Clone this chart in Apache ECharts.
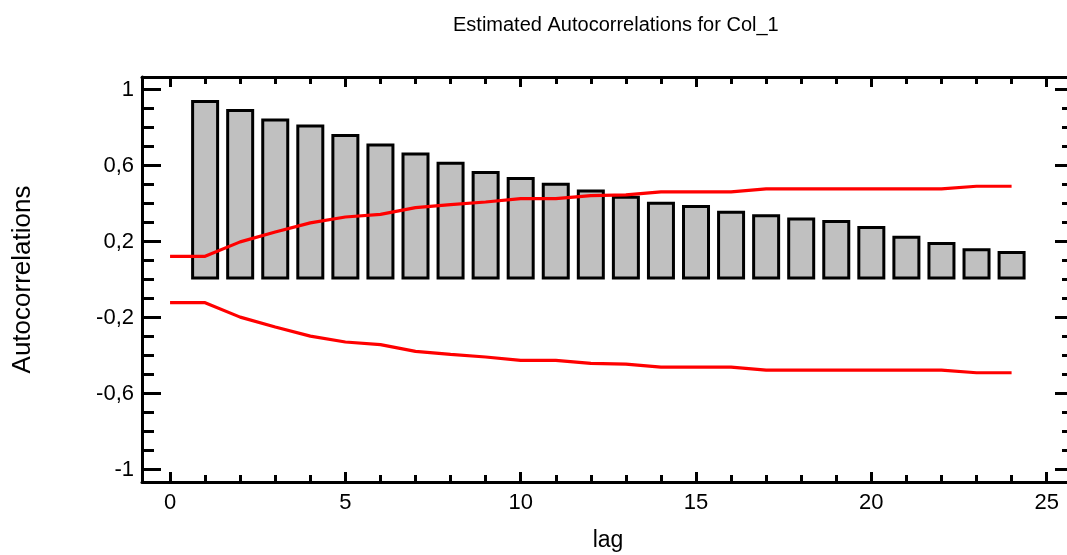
<!DOCTYPE html>
<html>
<head>
<meta charset="utf-8">
<script src="https://cdn.jsdelivr.net/npm/echarts@6/dist/echarts.min.js"></script>
<style>
  html, body { margin: 0; padding: 0; background: #fff; }
  #chart { width: 1067px; height: 555px; }
</style>
</head>
<body>
<div id="chart"></div>
<script>
// ---------- data ----------
const barLags = [1, 2, 3, 4, 5, 6, 7, 8, 9, 10, 11, 12, 13, 14, 15, 16, 17, 18, 19, 20, 21, 22, 23, 24];
const acfValues = [0.945, 0.897, 0.848, 0.816, 0.766, 0.716, 0.669, 0.620, 0.571, 0.539, 0.509, 0.474,
  0.441, 0.409, 0.392, 0.362, 0.344, 0.326, 0.313, 0.281, 0.230, 0.197, 0.165, 0.150];
const limitLags = [0, 1, 2, 3, 4, 5, 6, 7, 8, 9, 10, 11, 12, 13, 14, 15, 16, 17, 18, 19, 20, 21, 22, 23, 24];
const upperLimits = [0.122, 0.122, 0.198, 0.250, 0.298, 0.329, 0.343, 0.378, 0.394, 0.408, 0.426, 0.426,
  0.442, 0.445, 0.461, 0.461, 0.461, 0.477, 0.477, 0.477, 0.477, 0.477, 0.477, 0.491, 0.491];
const lowerLimits = upperLimits.map(v => -v); // band is symmetric
const xMajorTicks = [0, 5, 10, 15, 20, 25];
const yMajorTicks = [-1, -0.6, -0.2, 0.2, 0.6, 1];

const X_MIN = -0.8, X_MAX = 25.78;
const Y_MIN = -1.066, Y_MAX = 1.066;
const FONT = '"Liberation Sans", Arial, sans-serif';

// minor tick positions
const xMinorTicks = [];
for (let i = 0; i <= 25; i++) xMinorTicks.push(i);
const yMinorTicks = [];
for (let i = -10; i <= 10; i++) yMinorTicks.push(i / 10);

const chart = echarts.init(document.getElementById('chart'), null, { renderer: 'canvas' });

const frameLine = { show: true, onZero: false, lineStyle: { color: '#000', width: 3 } };
const noLine = { show: false, onZero: false };

// builds one axis (major with line, or minor ticks only)
const xAx = (position, ticks, len, withLine, withLabels, extra) => Object.assign({
  type: 'value', position, min: X_MIN, max: X_MAX,
  axisLine: withLine ? frameLine : noLine,
  axisTick: { show: true, inside: true, length: len, customValues: ticks, lineStyle: { color: '#000', width: 3 } },
  axisLabel: withLabels ? {
    show: true, customValues: ticks, margin: 10, color: '#000', fontSize: 22, fontFamily: FONT
  } : { show: false },
  splitLine: { show: false }
}, extra || {});

const yAx = (position, ticks, len, withLine, withLabels, extra) => Object.assign({
  type: 'value', position, min: Y_MIN, max: Y_MAX,
  axisLine: withLine ? frameLine : noLine,
  axisTick: { show: true, inside: true, length: len, customValues: ticks, lineStyle: { color: '#000', width: 3 } },
  axisLabel: withLabels ? {
    show: true, customValues: ticks, margin: 8, color: '#000', fontSize: 22, fontFamily: FONT,
    formatter: v => String(v).replace('.', ',')
  } : { show: false },
  splitLine: { show: false }
}, extra || {});

const option = {
  backgroundColor: '#fff',
  animation: false,
  title: {
    text: 'Estimated Autocorrelations for Col_1',
    left: 448,
    top: 10,
    textStyle: { fontSize: 20, fontWeight: 'normal', color: '#000', fontFamily: FONT }
  },
  grid: { left: 142, top: 77, right: -7, bottom: 73, outerBoundsMode: 'none' },
  xAxis: [
    xAx('bottom', xMajorTicks, 10, true, true, {
      name: 'lag', nameLocation: 'middle', nameGap: 47,
      nameTextStyle: { fontSize: 23, color: '#000', fontFamily: FONT }
    }),
    xAx('bottom', xMinorTicks, 7, false, false),
    xAx('top', xMajorTicks, 10, true, false),
    xAx('top', xMinorTicks, 7, false, false)
  ],
  yAxis: [
    yAx('left', yMajorTicks, 19, true, true, {
      name: 'Autocorrelations', nameLocation: 'middle', nameGap: 106,
      nameTextStyle: { fontSize: 26, color: '#000', fontFamily: FONT }
    }),
    yAx('left', yMinorTicks, 12, false, false),
    yAx('right', yMajorTicks, 19, true, false),
    yAx('right', yMinorTicks, 12, false, false)
  ],
  series: [
    {
      type: 'bar',
      xAxisIndex: 0, yAxisIndex: 0,
      data: barLags.map((l, i) => [l, acfValues[i]]),
      barWidth: 28,
      itemStyle: { color: '#c0c0c0', borderColor: '#000', borderWidth: 3 },
      z: 2
    },
    {
      type: 'line',
      xAxisIndex: 0, yAxisIndex: 0,
      data: limitLags.map((l, i) => [l, upperLimits[i]]),
      showSymbol: false, symbol: 'none',
      lineStyle: { color: '#ff0000', width: 3.2 },
      z: 3
    },
    {
      type: 'line',
      xAxisIndex: 0, yAxisIndex: 0,
      data: limitLags.map((l, i) => [l, lowerLimits[i]]),
      showSymbol: false, symbol: 'none',
      lineStyle: { color: '#ff0000', width: 3.2 },
      z: 3
    }
  ]
};

chart.setOption(option);
</script>
</body>
</html>
